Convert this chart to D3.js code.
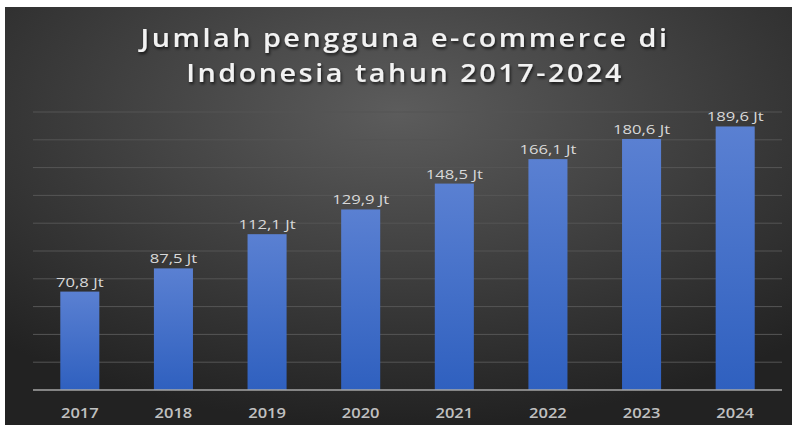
<!DOCTYPE html>
<html><head><meta charset="utf-8">
<script src="https://cdn.jsdelivr.net/npm/d3@7"></script>
<style>html,body{margin:0;padding:0;background:#fff;}svg{display:block;}</style>
</head><body>
<script>
const years = ["2017","2018","2019","2020","2021","2022","2023","2024"];
const users = [70.8, 87.5, 112.1, 129.9, 148.5, 166.1, 180.6, 189.6];
const valueLabels = ["70,8 Jt","87,5 Jt","112,1 Jt","129,9 Jt","148,5 Jt","166,1 Jt","180,6 Jt","189,6 Jt"];
const gridTicks = [0,20,40,60,80,100,120,140,160,180,200];
const titleLines = ["Jumlah pengguna e-commerce di","Indonesia tahun 2017-2024"];

const W = 792, H = 425;
const svg = d3.select("body").append("svg").attr("width", W).attr("height", H);
const defs = svg.append("defs");
const bg = defs.append("radialGradient").attr("id","bg").attr("cx","50%").attr("cy","25%").attr("r","75%")
  .attr("gradientUnits","objectBoundingBox");
bg.append("stop").attr("offset","0%").attr("stop-color","#5c5c5c");
bg.append("stop").attr("offset","55%").attr("stop-color","#3c3c3c");
bg.append("stop").attr("offset","100%").attr("stop-color","#222");
const bar = defs.append("linearGradient").attr("id","bar").attr("x1",0).attr("y1",0).attr("x2",0).attr("y2",1);
bar.append("stop").attr("offset","0%").attr("stop-color","#5a80d2");
bar.append("stop").attr("offset","100%").attr("stop-color","#2f60bf");
const sh = defs.append("filter").attr("id","sh").attr("x","-10%").attr("y","-30%").attr("width","120%").attr("height","160%");
sh.append("feDropShadow").attr("dx",1).attr("dy",2).attr("stdDeviation",1.5).attr("flood-color","#000").attr("flood-opacity",0.7);

svg.append("rect").attr("x",5).attr("y",7).attr("width",W-5).attr("height",H-7).attr("fill","url(#bg)");

const x = d3.scaleBand().domain(years).range([33,782]).paddingInner(0.583).paddingOuter(0.2915);
const y = d3.scaleLinear().domain([0,200]).range([390,112]);

svg.append("g").selectAll("line").data(gridTicks.slice(1)).join("line")
  .attr("x1",33).attr("x2",782).attr("y1",d=>y(d)).attr("y2",d=>y(d))
  .attr("stroke","#555").attr("stroke-width",1);

svg.append("g").selectAll("rect").data(users).join("rect")
  .attr("x",(d,i)=>x(years[i])).attr("width",x.bandwidth())
  .attr("y",d=>y(d)).attr("height",d=>y(0)-y(d)).attr("fill","url(#bar)");

svg.append("line").attr("x1",33).attr("x2",782).attr("y1",y(0)).attr("y2",y(0))
  .attr("stroke","#a6a6a6").attr("stroke-width",1.5);

svg.append("g").selectAll("text").data(users).join("text")
  .attr("transform",(d,i)=>`translate(${x(years[i])+x.bandwidth()/2},${y(d)-5}) scale(1.28,1)`)
  .attr("text-anchor","middle").attr("fill","#d9d9d9")
  .attr("font-family","'Open Sans', sans-serif").attr("font-size",13)
  .text((d,i)=>valueLabels[i]);

svg.append("g").selectAll("text").data(years).join("text")
  .attr("transform",d=>`translate(${x(d)+x.bandwidth()/2},${y(0)+27.5}) scale(1.1,1)`)
  .attr("text-anchor","middle").attr("fill","#c0c0c0").attr("font-family","'Open Sans', sans-serif")
  .attr("font-size",15).attr("font-weight",600)
  .text(d=>d);

svg.append("g").selectAll("text").data(titleLines).join("text")
  .attr("transform",(d,i)=>`translate(${405},${47+i*35}) scale(1.15,1)`).attr("text-anchor","middle")
  .attr("fill","#f2f2f2").attr("font-family","'Open Sans', sans-serif")
  .attr("font-size",25).attr("font-weight",600).attr("letter-spacing",2.2)
  .attr("filter","url(#sh)").text(d=>d);
</script>
</body></html>
